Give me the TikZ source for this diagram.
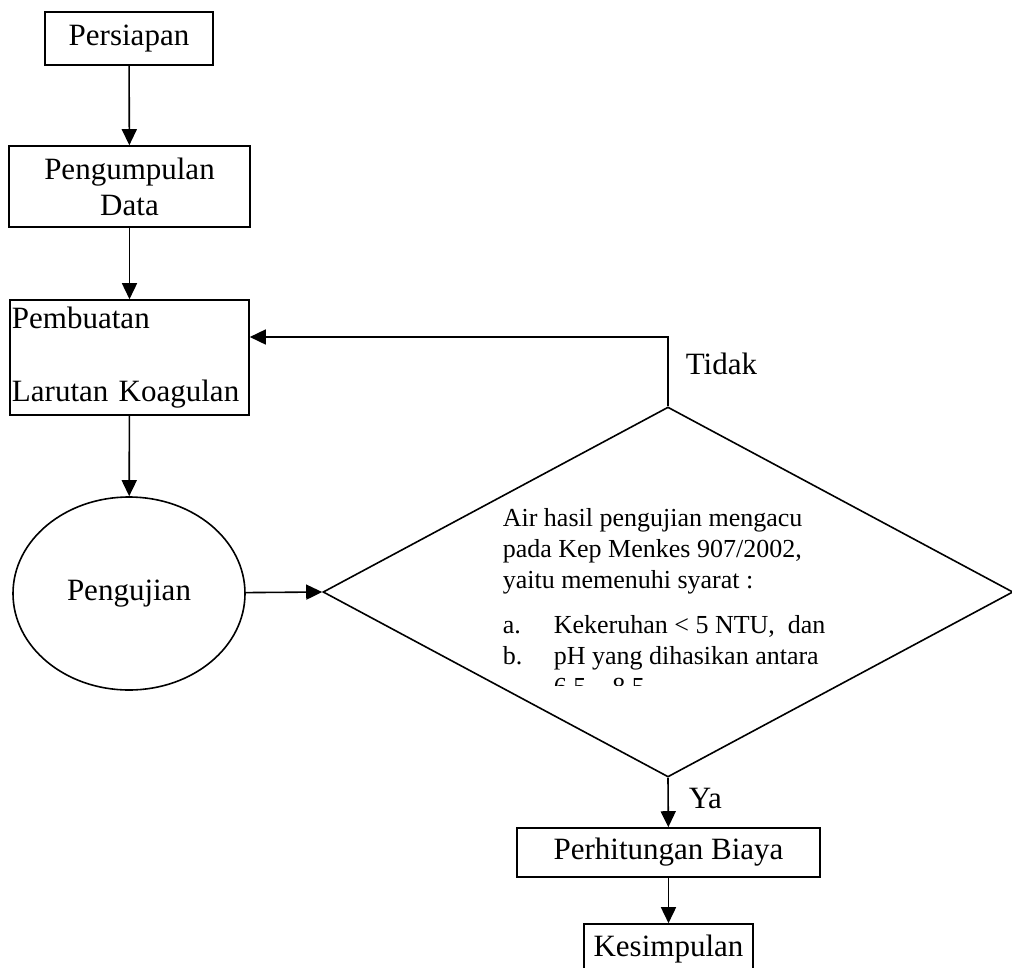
\documentclass[tikz,border=0pt]{standalone}
\usepackage{fontspec}
\setmainfont{Liberation Serif}
\usetikzlibrary{shapes.geometric,arrows.meta}
\begin{document}
\begin{tikzpicture}[x=1pt, y=-1pt, line width=1.6pt,
    font=\fontsize{31}{36}\selectfont, >={Triangle[width=15pt,length=16pt]},
    kotak/.style={draw, rectangle, inner sep=0pt, align=center},
    syarattext/.style={font=\fontsize{26}{31}\selectfont, align=left, inner sep=0pt}]
  \useasboundingbox (0,0) rectangle (1012,967);
  % left column, px coordinates of the page
  \node[kotak, minimum width=168pt, minimum height=53pt] (persiapan) at (129,38.5) {Persiapan};
  \node[kotak, minimum width=241pt, minimum height=81pt] (pengumpulan) at (129.5,186.5) {Pengumpulan\\Data};
  \node[kotak, align=left, text width=235pt, inner xsep=2pt, minimum height=115pt] (pembuatan) at (129.5,357.5)
    {Pembuatan\\[37pt]Larutan Koagulan};
  \node[ellipse, draw, inner sep=0pt, minimum width=232pt, minimum height=193pt] (pengujian) at (129,593.5) {Pengujian};
  % decision
  \node[diamond, draw, inner sep=0pt, minimum width=690pt, minimum height=370pt] (keputusan) at (668,592) {};
  \begin{scope}
    \clip (480,495) rectangle (900,685);
    \node[syarattext, anchor=north west] (syarat) at (502,507.5)
      {Air hasil pengujian mengacu\\
       pada Kep Menkes 907/2002,\\
       yaitu memenuhi syarat :\\[14pt]
       \makebox[51pt][l]{a.}Kekeruhan < 5 NTU,\ \ dan\\
       \makebox[51pt][l]{b.}pH yang dihasikan antara\\
       \hspace*{51pt}6,5 -- 8,5};
  \end{scope}
  \node[anchor=base west, inner sep=0pt] (tidak) at (685,374) {Tidak};
  \node[anchor=base west, inner sep=0pt] (ya) at (688,808) {Ya};
  % right column
  \node[kotak, minimum width=303pt, minimum height=49pt] (perhitungan) at (668.5,852.5) {Perhitungan Biaya};
  \node[kotak, minimum width=169pt, minimum height=50pt] (kesimpulan) at (668.5,949) {Kesimpulan};
  % arrows
  \draw[->] (persiapan) -- (pengumpulan);
  \draw[->] (pengumpulan) -- (pembuatan);
  \draw[->] (pembuatan) -- (pengujian);
  \draw[->] (pengujian) -- (keputusan.west);
  \coordinate (belok) at (668,337);
  \draw[->] (keputusan.north) -- (belok) -- (belok -| pembuatan.east);
  \draw[->] (keputusan.south) -- (perhitungan);
  \draw[->] (perhitungan) -- (kesimpulan);
\end{tikzpicture}
\end{document}
